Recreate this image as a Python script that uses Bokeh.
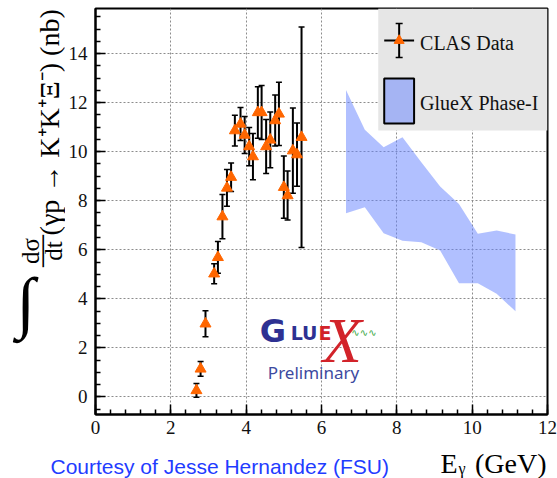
from math import pi
from bokeh.plotting import figure
from bokeh.models import (ColumnDataSource, Label, Range1d, SingleIntervalTicker,
                          BoxAnnotation)
from bokeh.layouts import column, row
from bokeh.core.properties import value
from bokeh.embed import file_html
from bokeh.resources import INLINE

# ---------------- data ----------------
clas_e = [2.68, 2.79, 2.92, 3.15, 3.25, 3.37, 3.49, 3.60, 3.70, 3.85, 3.96, 4.08,
          4.18, 4.31, 4.41, 4.53, 4.64, 4.77, 4.87, 5.00, 5.10, 5.24, 5.35, 5.47]
clas_xsec = [0.26, 1.14, 2.98, 5.02, 5.69, 7.35, 8.52, 8.96, 10.86, 11.13, 10.68, 10.21,
             9.80, 11.60, 11.60, 10.21, 10.48, 11.27, 11.54, 8.55, 8.21, 10.04, 9.88, 10.59]
clas_err = [0.28, 0.30, 0.53, 0.41, 0.65, 0.90, 0.75, 0.58, 0.63, 0.67, 0.75, 0.78,
            0.94, 1.05, 1.10, 1.10, 1.14, 1.04, 1.29, 1.27, 1.00, 1.74, 1.29, 4.50]

gluex_e = [6.65, 7.15, 7.65, 8.15, 8.65, 9.15, 9.65, 10.15, 10.65, 11.15]
gluex_hi = [12.52, 10.89, 10.18, 10.59, 9.57, 8.58, 7.87, 6.65, 6.79, 6.62]
gluex_lo = [7.49, 7.73, 6.67, 6.37, 6.31, 5.97, 4.63, 4.63, 4.21, 3.49]

legend_labels = ["CLAS Data", "GlueX Phase-I"]
x_ticks = [0, 2, 4, 6, 8, 10, 12]
y_ticks = [0, 2, 4, 6, 8, 10, 12, 14]

# ---------------- layout constants (page pixels) ----------------
W, H = 557, 478
LEFT_W = 65            # width of the y-title strip
BOT_H = 36             # height of the bottom text strip
L, R, T, B = 93, 10, 8, 64   # frame borders on the page
X0, X1 = 0.0, 12.0
Y0, Y1 = -0.72, 15.84
BL = 0.22              # baseline correction (fraction of font size)

# legend box (page pixels)
LG_LEFT, LG_BOTTOM = 377, 130
LG_GLYPH_L, LG_GLYPH_R = 383, 413
LG_ROW1, LG_ROW2 = 40, 100
LG_TEXT_X = 419

ORANGE = "#ff6600"
BAND = "#6482ff"
SERIF = "Liberation Serif"


def dx(px):
    return X0 + (px - L) * (X1 - X0) / (W - L - R)


def dy(py):
    return Y1 - (py - T) * (Y1 - Y0) / (H - T - B)


def base(b, size):
    return b - BL * size


# ---------------- main plot ----------------
p = figure(width=W - LEFT_W, height=H - BOT_H, output_backend="svg", toolbar_location=None,
           x_range=Range1d(X0, X1), y_range=Range1d(Y0, Y1),
           min_border_left=L - LEFT_W, min_border_right=R, min_border_top=T,
           min_border_bottom=B - BOT_H)
p.background_fill_color = "white"
p.border_fill_color = "white"
p.outline_line_color = "black"
p.outline_line_width = 2

xt = SingleIntervalTicker(interval=x_ticks[1] - x_ticks[0], num_minor_ticks=5)
yt = SingleIntervalTicker(interval=y_ticks[1] - y_ticks[0], num_minor_ticks=4)
p.xaxis.ticker = xt
p.yaxis.ticker = yt
p.xgrid.ticker = xt
p.ygrid.ticker = yt
for g in (p.xgrid, p.ygrid):
    g.grid_line_color = "#8c8c8c"
    g.grid_line_dash = "2 2"
    g.grid_line_width = 1

for ax in (p.xaxis, p.yaxis):
    ax.axis_line_color = "black"
    ax.axis_line_width = 2
    ax.major_tick_in = 10
    ax.major_tick_out = 0
    ax.minor_tick_in = 5
    ax.minor_tick_out = 0
    ax.major_tick_line_width = 1.5
    ax.minor_tick_line_width = 1.5
    ax.major_tick_line_color = "black"
    ax.minor_tick_line_color = "black"
    ax.major_label_text_font = SERIF
    ax.major_label_text_font_size = "19px"
    ax.major_label_text_color = "#111111"
p.xaxis.major_label_standoff = 6
p.yaxis.major_label_standoff = 8

# legend background (under the glyphs, over the grid)
p.add_layout(BoxAnnotation(left=dx(LG_LEFT), bottom=dy(LG_BOTTOM),
                           fill_color="#e6e6e6", fill_alpha=1.0,
                           line_color=None, level="underlay"))

# GlueX band
p.varea(x=gluex_e, y1=gluex_lo, y2=gluex_hi, fill_color=BAND, fill_alpha=0.5)

# CLAS data
src = ColumnDataSource(dict(
    x=clas_e, y=clas_xsec,
    lo=[v - e for v, e in zip(clas_xsec, clas_err)],
    hi=[v + e for v, e in zip(clas_xsec, clas_err)],
))
p.segment(x0="x", y0="lo", x1="x", y1="hi", source=src,
          line_color="black", line_width=2)
p.scatter(x="x", y="hi", source=src, marker="dash", size=6,
          line_color="black", line_width=1.5)
p.scatter(x="x", y="lo", source=src, marker="dash", size=6,
          line_color="black", line_width=1.5)
p.scatter(x="x", y="y", source=src, marker="triangle", size=11,
          fill_color=ORANGE, line_color=ORANGE)

# ---- legend entries ----
gcx = (LG_GLYPH_L + LG_GLYPH_R) / 2
lg = ColumnDataSource(dict(x=[dx(gcx)], y=[dy(LG_ROW1)],
                           lo=[dy(LG_ROW1 + 17)], hi=[dy(LG_ROW1 - 17)],
                           xl=[dx(LG_GLYPH_L)], xr=[dx(LG_GLYPH_R)]))
p.segment(x0="xl", y0="y", x1="xr", y1="y", source=lg, line_color="black", line_width=2)
p.segment(x0="x", y0="lo", x1="x", y1="hi", source=lg, line_color="black", line_width=2)
p.scatter(x="x", y="hi", source=lg, marker="dash", size=7, line_color="black", line_width=1.5)
p.scatter(x="x", y="lo", source=lg, marker="dash", size=7, line_color="black", line_width=1.5)
p.scatter(x="x", y="y", source=lg, marker="triangle", size=10,
          fill_color=ORANGE, line_color=ORANGE)
p.quad(left=[dx(LG_GLYPH_L)], right=[dx(LG_GLYPH_R)],
       top=[dy(LG_ROW2 - 22)], bottom=[dy(LG_ROW2 + 23)],
       fill_color=BAND, fill_alpha=0.5, line_color="black", line_width=2)


def lab(text, px, py, size, font=SERIF, color="black", align="left", style="normal"):
    p.add_layout(Label(x=dx(px), y=dy(base(py, size)), text=text,
                       text_align=align, text_baseline="alphabetic",
                       text_font=font, text_font_size=f"{size}px", text_color=color,
                       text_font_style=style))


lab(legend_labels[0], LG_TEXT_X, LG_ROW1 + 7, 20, color="#111111")
lab(legend_labels[1], LG_TEXT_X, LG_ROW2 + 7, 20, color="#111111")

# GlueX logo
lab("G", 258, 338, 32, font="DejaVu Sans", color="#2e3192", style="bold")
lab("LU", 289, 337, 19, font="DejaVu Sans", color="#2e3192", style="bold")
lab("E", 317, 337, 19, font="DejaVu Sans", color="#d2232a", style="bold")
lab("X", 341, 354, 64, font=SERIF, color="#d2232a", style="italic", align="center")
lab("∿∿∿", 350, 334, 10, font="DejaVu Sans", color="#39a845")
lab("Preliminary", 312, 376, 17, font="Noto Sans", color="#3d4aa0", align="center")


def strip(width, height, y_top):
    f = figure(width=width, height=height, output_backend="svg", toolbar_location=None,
               x_range=Range1d(0, width), y_range=Range1d(y_top + height, y_top),
               x_axis_type=None, y_axis_type=None, min_border=0)
    f.outline_line_color = None
    f.background_fill_color = "white"
    f.border_fill_color = "white"
    f.xgrid.visible = False
    f.ygrid.visible = False
    return f


# ---------------- y-axis title strip (page pixel coordinates) ----------------
ly = strip(LEFT_W, H - BOT_H, 0)
ly.text(x=[25], y=[base(335, 68)], text=["∫"], text_align="center",
        text_baseline="alphabetic", text_font=value(SERIF), text_font_size="68px")
ly.text(x=[base(35, 25), base(58, 25)], y=[264, 264], text=["dσ", "dt"], angle=pi / 2,
        text_align="center", text_baseline="alphabetic", text_font=value(SERIF),
        text_font_size="25px")
ly.text(x=[base(46.5, 32)], y=[264], text=["—"], angle=pi / 2, text_align="center",
        text_baseline="alphabetic", text_font=value(SERIF), text_font_size="32px")
ly.text(x=[base(55, 28)], y=[247], text=["(γp → K⁺K⁺Ξ⁻) (nb)"], angle=pi / 2,
        text_align="left", text_baseline="alphabetic", text_font=value(SERIF),
        text_font_size="28px")

# ---------------- bottom strip ----------------
bx = strip(W, BOT_H, H - BOT_H)
bx.text(x=[457], y=[base(469.5, 28)], text=["E"], text_align="right",
        text_baseline="alphabetic", text_font=value(SERIF), text_font_size="28px")
bx.text(x=[458], y=[base(472, 16)], text=["γ"], text_align="left",
        text_baseline="alphabetic", text_font=value(SERIF), text_font_size="16px")
bx.text(x=[546], y=[base(469.5, 28)], text=["(GeV)"], text_align="right",
        text_baseline="alphabetic", text_font=value(SERIF), text_font_size="28px")
bx.text(x=[50], y=[base(470.5, 21)], text=["Courtesy of Jesse Hernandez (FSU)"],
        text_align="left", text_baseline="alphabetic", text_font=value("Liberation Sans"),
        text_font_size="21px", text_color="#1f3cff")

layout = column(row(ly, p, spacing=0), bx, spacing=0)
open("out.html", "w").write(file_html(layout, INLINE))
